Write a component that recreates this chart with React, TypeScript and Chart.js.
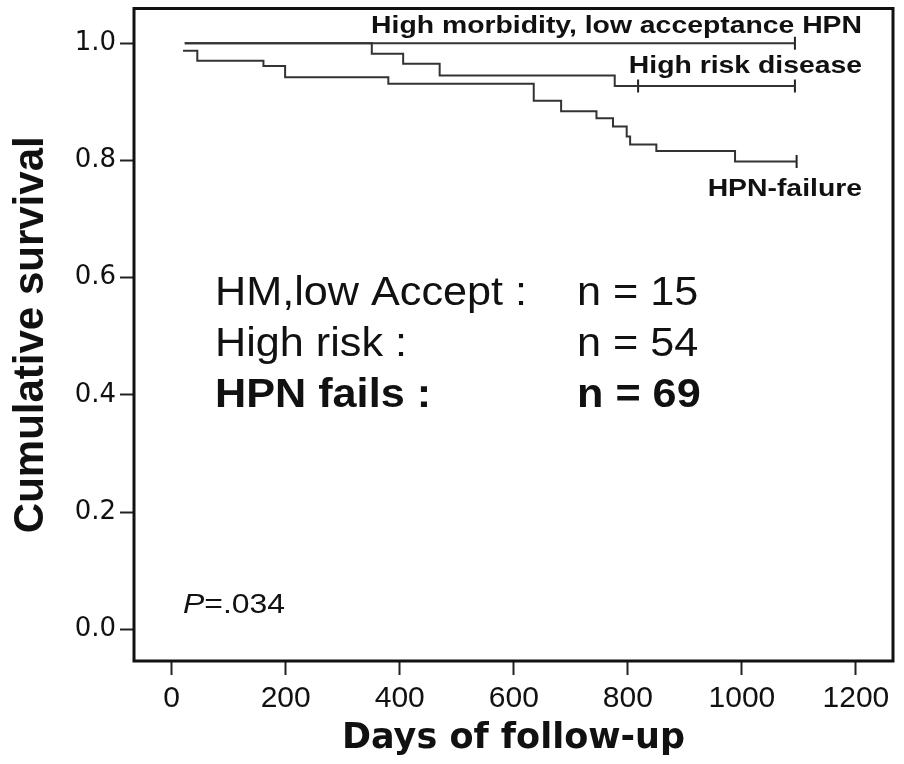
import React, { useEffect, useRef } from "react";
import { Chart, registerables } from "chart.js";

Chart.register(...registerables);

// ---- data ----
const xTicks = [0, 200, 400, 600, 800, 1000, 1200];
const yTicks = [0, 0.2, 0.4, 0.6, 0.8, 1.0];

// High morbidity, low acceptance HPN (n = 15)
const hmDays = [23, 1093];
const hmSurv = [1.0, 1.0];
const hmCensorDays = [1093];
const hmCensorSurv = [1.0];

// High risk disease (n = 54)
const hrDays = [23, 351, 406, 470, 777, 1093];
const hrSurv = [1.0, 0.982, 0.965, 0.945, 0.927, 0.927];
const hrCensorDays = [818, 1093];
const hrCensorSurv = [0.927, 0.927];

// HPN-failure (n = 69)
const hfDays = [20, 45, 161, 199, 380, 635, 683, 745, 774, 798, 804, 850, 988, 1096];
const hfSurv = [0.987, 0.97, 0.961, 0.942, 0.931, 0.902, 0.884, 0.872, 0.858, 0.841, 0.827, 0.816, 0.798, 0.798];
const hfCensorDays = [1096];
const hfCensorSurv = [0.798];

const curveLabels = ["High morbidity, low acceptance HPN", "High risk disease", "HPN-failure"];
const groupNames = ["HM,low Accept :", "High risk :", "HPN fails :"];
const groupCounts = [15, 54, 69];
const pValue = "=.034";

const toPts = (xs: number[], ys: number[]) => xs.map((x, i) => ({ x, y: ys[i] }));

const LINE = "#333333";
const INK = "#111111";

const overlayPlugin = {
  id: "overlay",
  afterDraw(chart: any) {
    const { ctx, chartArea: a } = chart;
    ctx.save();
    // frame
    ctx.strokeStyle = INK;
    ctx.lineWidth = 3;
    ctx.strokeRect(a.left, a.top, a.right - a.left, a.bottom - a.top);

    const draw = (text: string, x: number, y: number, font: string, sx: number, align: CanvasTextAlign) => {
      ctx.save();
      ctx.font = font;
      ctx.fillStyle = INK;
      ctx.textBaseline = "alphabetic";
      ctx.textAlign = align;
      ctx.translate(x, y);
      ctx.scale(sx, 1);
      ctx.fillText(text, 0, 0);
      ctx.restore();
    };

    // curve labels (right aligned)
    const lblFont = "bold 24.5px 'Liberation Sans', Arial, sans-serif";
    draw(curveLabels[0], 862, 32.5, lblFont, 1.157, "right");
    draw(curveLabels[1], 862, 72.5, lblFont, 1.157, "right");
    draw(curveLabels[2], 862, 195.5, lblFont, 1.157, "right");

    // group annotation
    const baselines = [305, 356, 407];
    groupNames.forEach((g, i) => {
      const bold = i === 2 ? "bold " : "";
      const f = `${bold}40px 'Liberation Sans', Arial, sans-serif`;
      draw(g, 215, baselines[i], f, 1.08, "left");
      draw(`n = ${groupCounts[i]}`, 577, baselines[i], f, 1.08, "left");
    });

    // P value
    ctx.save();
    ctx.translate(183, 613);
    ctx.scale(1.14, 1);
    ctx.fillStyle = INK;
    ctx.textBaseline = "alphabetic";
    ctx.textAlign = "left";
    ctx.font = "italic 28px 'Liberation Sans', Arial, sans-serif";
    ctx.fillText("P", 0, 0);
    const pw = ctx.measureText("P").width;
    ctx.font = "28px 'Liberation Sans', Arial, sans-serif";
    ctx.fillText(pValue, pw, 0);
    ctx.restore();

    ctx.restore();
  },
};

export default function App() {
  const ref = useRef<HTMLCanvasElement | null>(null);

  useEffect(() => {
    if (!ref.current) return;
    const curve = (xs: number[], ys: number[]) => ({
      type: "line" as const,
      data: toPts(xs, ys),
      stepped: "before" as const,
      borderColor: LINE,
      borderWidth: 2,
      pointRadius: 0,
      fill: false,
    });
    const censor = (xs: number[], ys: number[]) => ({
      type: "scatter" as const,
      data: toPts(xs, ys),
      showLine: false,
      pointStyle: "line" as const,
      rotation: 90,
      pointRadius: 6.5,
      borderWidth: 2,
      borderColor: "#222",
      backgroundColor: "#222",
    });

    const chart = new Chart(ref.current, {
      type: "line",
      data: {
        datasets: [
          curve(hmDays, hmSurv),
          curve(hrDays, hrSurv),
          curve(hfDays, hfSurv),
          censor(hmCensorDays, hmCensorSurv),
          censor(hrCensorDays, hrCensorSurv),
          censor(hfCensorDays, hfCensorSurv),
        ] as any,
      },
      options: {
        animation: false,
        responsive: false,
        maintainAspectRatio: false,
        devicePixelRatio: 1,
        layout: { padding: { top: 8, right: 11, left: 0, bottom: 0 } },
        plugins: {
          legend: { display: false },
          tooltip: { enabled: false },
        },
        scales: {
          x: {
            type: "linear",
            min: -66,
            max: 1265,
            afterBuildTicks: (s: any) => {
              s.ticks = xTicks.map((v) => ({ value: v }));
            },
            afterFit: (s: any) => {
              s.height = 103;
              s.paddingLeft = 0;
              s.paddingRight = 0;
            },
            grid: {
              display: true,
              drawOnChartArea: false,
              drawTicks: true,
              tickLength: 14,
              tickWidth: 2,
              tickColor: "#222",
            },
            border: { display: false },
            ticks: {
              autoSkip: false,
              maxRotation: 0,
              padding: 6,
              color: INK,
              font: { family: "'Liberation Sans', Arial, sans-serif", size: 30 },
              callback: (v: any) => String(v),
            },
            title: {
              display: true,
              text: "Days of follow-up",
              color: INK,
              font: { family: "'DejaVu Sans', sans-serif", size: 35, weight: "bold" },
              padding: { top: 0, bottom: 4.5 },
            },
          },
          y: {
            type: "linear",
            min: -0.054,
            max: 1.0592,
            afterBuildTicks: (s: any) => {
              s.ticks = yTicks.map((v) => ({ value: v }));
            },
            afterFit: (s: any) => {
              s.width = 134;
              s.paddingTop = 0;
              s.paddingBottom = 0;
            },
            grid: {
              display: true,
              drawOnChartArea: false,
              drawTicks: true,
              tickLength: 14,
              tickWidth: 2,
              tickColor: "#222",
            },
            border: { display: false },
            ticks: {
              padding: 4,
              color: INK,
              font: { family: "'DejaVu Sans', sans-serif", size: 26 },
              callback: (v: any) => Number(v).toFixed(1),
            },
            title: {
              display: true,
              text: "Cumulative survival",
              color: INK,
              font: { family: "'Liberation Sans', Arial, sans-serif", size: 42, weight: "bold" },
              padding: { top: 6, bottom: 0 },
            },
          },
        },
      },
      plugins: [overlayPlugin],
    });
    return () => chart.destroy();
  }, []);

  return (
    <div style={{ position: "fixed", left: 0, top: 0, width: 904, height: 764, background: "#fff" }}>
      <canvas ref={ref} width={904} height={764} style={{ display: "block", width: 904, height: 764 }} />
    </div>
  );
}
